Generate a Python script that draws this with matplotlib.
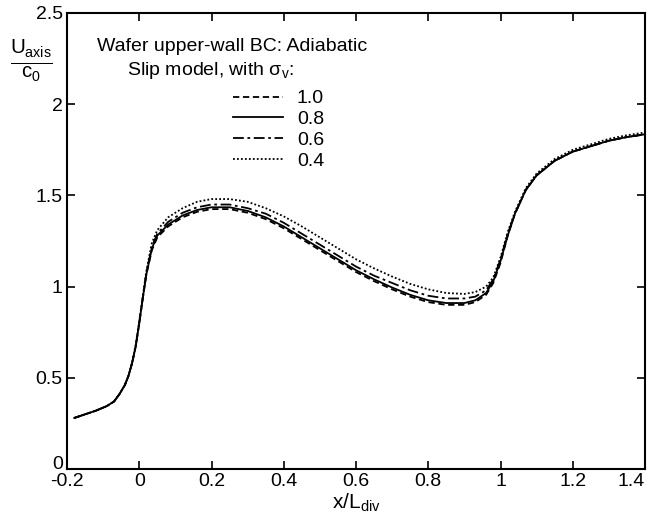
import numpy as np
import matplotlib
matplotlib.use('Agg')
from matplotlib import pyplot as plt

plt.rcParams['font.family'] = ['Liberation Sans', 'DejaVu Sans']
plt.rcParams['mathtext.fontset'] = 'custom'
plt.rcParams['mathtext.rm'] = 'Liberation Sans'
plt.rcParams['mathtext.it'] = 'Liberation Sans:italic'

# x / L_div
x = [-0.18, -0.15, -0.12, -0.09, -0.07, -0.055, -0.04, -0.03, -0.02, -0.01, 0.0,
     0.01, 0.02, 0.035, 0.05, 0.08, 0.12, 0.16, 0.2, 0.25, 0.3, 0.35, 0.4, 0.45,
     0.5, 0.55, 0.6, 0.65, 0.7, 0.75, 0.8, 0.85, 0.9, 0.93, 0.96, 0.98, 1.0,
     1.02, 1.04, 1.07, 1.1, 1.15, 1.2, 1.25, 1.3, 1.35, 1.4]

# sigma_v = 1.0 (dashed)
u_10 = [0.28, 0.30, 0.32, 0.345, 0.37, 0.41, 0.46, 0.51, 0.58, 0.67, 0.80,
        0.94, 1.07, 1.20, 1.27, 1.33, 1.38, 1.41, 1.425, 1.425, 1.405, 1.37,
        1.32, 1.26, 1.20, 1.14, 1.08, 1.03, 0.985, 0.945, 0.915, 0.90, 0.90,
        0.915, 0.955, 1.02, 1.13, 1.28, 1.40, 1.53, 1.61, 1.69, 1.74, 1.77,
        1.80, 1.82, 1.835]
# sigma_v = 0.8 (solid)
u_08 = [0.28, 0.30, 0.32, 0.345, 0.37, 0.41, 0.46, 0.51, 0.58, 0.67, 0.80,
        0.94, 1.07, 1.21, 1.28, 1.34, 1.39, 1.42, 1.435, 1.435, 1.415, 1.38,
        1.33, 1.27, 1.21, 1.15, 1.09, 1.04, 0.995, 0.955, 0.925, 0.91, 0.91,
        0.925, 0.965, 1.03, 1.14, 1.28, 1.40, 1.53, 1.61, 1.69, 1.74, 1.77,
        1.80, 1.82, 1.835]
# sigma_v = 0.6 (dash-dot)
u_06 = [0.28, 0.30, 0.32, 0.345, 0.37, 0.41, 0.46, 0.51, 0.58, 0.67, 0.80,
        0.94, 1.08, 1.22, 1.29, 1.355, 1.405, 1.435, 1.45, 1.45, 1.43, 1.40,
        1.35, 1.29, 1.23, 1.17, 1.11, 1.06, 1.02, 0.98, 0.95, 0.935, 0.935,
        0.945, 0.98, 1.04, 1.15, 1.29, 1.40, 1.53, 1.61, 1.69, 1.74, 1.77,
        1.80, 1.82, 1.835]
# sigma_v = 0.4 (dotted)
u_04 = [0.28, 0.30, 0.32, 0.345, 0.37, 0.41, 0.46, 0.51, 0.58, 0.68, 0.81,
        0.95, 1.09, 1.24, 1.31, 1.38, 1.43, 1.465, 1.48, 1.48, 1.465, 1.43,
        1.385, 1.33, 1.27, 1.21, 1.15, 1.10, 1.055, 1.015, 0.985, 0.965, 0.96,
        0.97, 1.0, 1.05, 1.16, 1.30, 1.41, 1.54, 1.62, 1.70, 1.75, 1.78,
        1.81, 1.83, 1.845]

fig = plt.figure(figsize=(6.48, 5.2), dpi=100)
ax = fig.add_axes([0.1034, 0.098, 0.892, 0.877])

ax.plot(x, u_10, color='black', lw=1.3, ls=(0, (3.5, 2.0)), label='1.0')
ax.plot(x, u_08, color='black', lw=1.3, ls='-', label='0.8')
ax.plot(x, u_06, color='black', lw=1.3, ls=(0, (6, 2, 1.5, 2)), label='0.6')
ax.plot(x, u_04, color='black', lw=1.3, ls=(0, (1, 1.2)), label='0.4')

ax.set_xlim(-0.2, 1.4)
ax.set_ylim(0, 2.5)
ax.set_xticks([-0.2, 0, 0.2, 0.4, 0.6, 0.8, 1, 1.2, 1.4])
ax.set_xticklabels(['-0.2', '0', '0.2', '0.4', '0.6', '0.8', '1', '1.2', '1.4'])
ax.set_yticks([0, 0.5, 1, 1.5, 2, 2.5])
ax.set_yticklabels(['0', '0.5', '1', '1.5', '2', '2.5'])
ax.tick_params(direction='in', top=True, right=True, length=6, width=1.2,
               labelsize=14, pad=3)
ax.get_xticklabels()[-1].set_horizontalalignment('right')
ax.get_yticklabels()[0].set_verticalalignment('baseline')
for s in ax.spines.values():
    s.set_linewidth(1.5)

ax.text(0.052, 0.926, 'Wafer upper-wall BC: Adiabatic', transform=ax.transAxes,
        fontsize=14, va='center', ha='left')
ax.text(0.104, 0.874, 'Slip model, with σ$_{\\rm v}$:', transform=ax.transAxes,
        fontsize=14, va='center', ha='left')

leg = ax.legend(loc='upper left', bbox_to_anchor=(0.27, 0.853), frameon=False,
                fontsize=14, handlelength=2.6, handletextpad=0.7,
                labelspacing=0.17, borderpad=0)

ax.set_xlabel(r'x/L$_{\rm div}$', fontsize=15, labelpad=1)
fig.text(0.048, 0.882, r'$\frac{\mathrm{U_{axis}}}{\mathrm{c_0}}$', fontsize=21,
         ha='center', va='center')

fig.savefig('out.png', dpi=100)
